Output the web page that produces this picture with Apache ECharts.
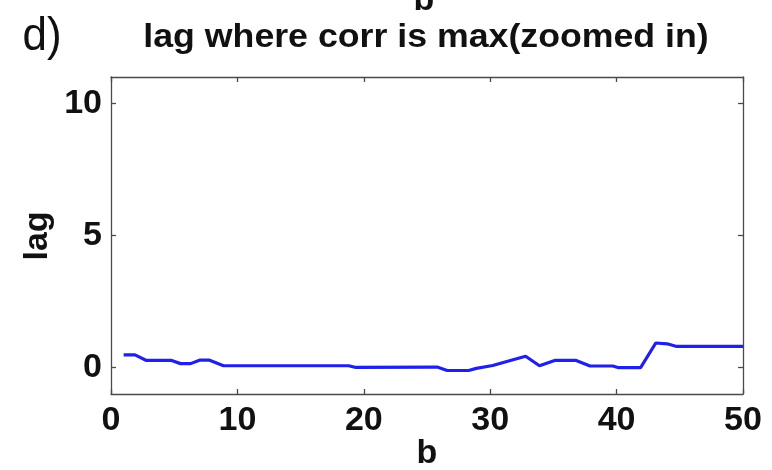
<!DOCTYPE html>
<html>
<head>
<meta charset="utf-8">
<title>lag where corr is max(zoomed in)</title>
<script src="https://cdn.jsdelivr.net/npm/echarts@6/dist/echarts.min.js"></script>
<style>
  html, body { margin: 0; padding: 0; background: #fff; }
  #chart { width: 772px; height: 470px; }
</style>
</head>
<body>
<div id="chart"></div>
<script>
// b values (x) and the lag at which the correlation peaks (y)
const bValues = [1, 1.9, 2.8, 4.8, 5.5, 6.3, 7.0, 7.8, 8.9, 18.8, 19.3, 25.8, 26.6, 28.3,
                 28.9, 30.2, 31.6, 32.8, 33.9, 35.1, 36.8, 37.9, 39.7, 40.1, 41.9, 43.1,
                 44.0, 44.75, 50];
const lagValues = [0.48, 0.48, 0.27, 0.27, 0.15, 0.15, 0.28, 0.28, 0.07, 0.07, 0.01, 0.02, -0.11, -0.11,
                   -0.03, 0.08, 0.27, 0.43, 0.07, 0.27, 0.27, 0.06, 0.06, 0.0, 0.0, 0.93,
                   0.9, 0.8, 0.8];

const xTicks = [0, 10, 20, 30, 40, 50];
const yTicks = [0, 5, 10];

const titleText = 'lag where corr is max(zoomed in)';
const panelTag = 'd)';
const xName = 'b';
const yName = 'lag';

const FONT = '"Liberation Sans", Arial, Helvetica, sans-serif';
const AXIS_COLOR = '#4a4a4a';

const chart = echarts.init(document.getElementById('chart'), null, { renderer: 'canvas' });

const points = bValues.map((b, i) => [b, lagValues[i]]);

const baseX = {
  type: 'value', min: 0, max: 50, interval: 10,
  splitLine: { show: false },
  axisLine: { show: true, onZero: false, lineStyle: { color: AXIS_COLOR, width: 1.3 } },
  axisTick: { show: true, inside: true, length: 5, lineStyle: { color: AXIS_COLOR, width: 1.3 } }
};
const baseY = {
  type: 'value', min: -1, max: 11,
  splitLine: { show: false },
  axisLine: { show: true, onZero: false, lineStyle: { color: AXIS_COLOR, width: 1.3 } },
  axisTick: { show: true, inside: true, length: 5, customValues: yTicks,
              lineStyle: { color: AXIS_COLOR, width: 1.3 } }
};

chart.setOption({
  animation: false,
  backgroundColor: '#ffffff',
  grid: { left: 111, top: 77, right: 29, bottom: 76, containLabel: false },
  xAxis: [
    Object.assign({}, baseX, {
      position: 'bottom',
      axisLabel: { show: true, margin: 10, color: '#111', fontFamily: FONT,
                   fontWeight: 'bold', fontSize: 34, customValues: xTicks }
    }),
    Object.assign({}, baseX, { position: 'top', axisLabel: { show: false } })
  ],
  yAxis: [
    Object.assign({}, baseY, {
      position: 'left',
      axisLabel: { show: true, margin: 9, color: '#111', fontFamily: FONT,
                   fontWeight: 'bold', fontSize: 34, customValues: yTicks }
    }),
    Object.assign({}, baseY, { position: 'right', axisLabel: { show: false } })
  ],
  series: [{
    type: 'line',
    xAxisIndex: 0, yAxisIndex: 0,
    data: points,
    showSymbol: false,
    symbol: 'none',
    lineStyle: { color: '#2020ea', width: 3.2 },
    z: 3
  }],
  graphic: [
    // xlabel of the panel above, cut off at the top edge
    { type: 'text', x: 424, y: 1, silent: true,
      style: { text: xName, fill: '#111', font: 'bold 34px ' + FONT,
               textAlign: 'center', textVerticalAlign: 'middle' } },
    { type: 'text', x: 42, y: 37, scaleY: 1.05, silent: true,
      style: { text: panelTag, fill: '#111', font: '44px ' + FONT,
               textAlign: 'center', textVerticalAlign: 'middle' } },
    { type: 'text', x: 426, y: 38, scaleX: 1.05, silent: true,
      style: { text: titleText, fill: '#111', font: 'bold 34px ' + FONT,
               textAlign: 'center', textVerticalAlign: 'middle' } },
    { type: 'text', x: 427, y: 454, silent: true,
      style: { text: xName, fill: '#111', font: 'bold 34px ' + FONT,
               textAlign: 'center', textVerticalAlign: 'middle' } },
    { type: 'text', x: 38, y: 236, rotation: Math.PI / 2, silent: true,
      style: { text: yName, fill: '#111', font: 'bold 34px ' + FONT,
               textAlign: 'center', textVerticalAlign: 'middle' } }
  ]
});
</script>
</body>
</html>
